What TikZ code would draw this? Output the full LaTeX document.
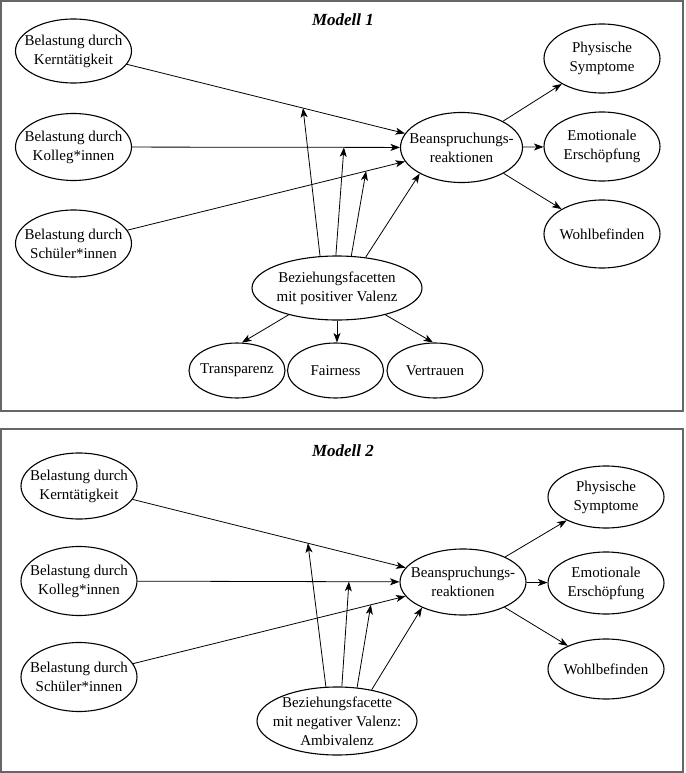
\documentclass[tikz,border=0pt]{standalone}
\usepackage{fontspec}
\setmainfont{Liberation Serif}
\usetikzlibrary{shapes.geometric,arrows.meta,calc}
\tikzset{
  txt/.style={align=center, inner sep=0pt, font=\fontsize{15}{19}\selectfont},
  var/.style args={#1/#2/#3}{ellipse, draw=black, line width=1.1pt, inner sep=0pt,
    minimum width=#1, minimum height=#2, label={[txt]center:#3}},
  ttl/.style={font=\fontsize{17}{20}\selectfont\bfseries\itshape},
  panel/.style={draw=black!60, line width=1.4pt},
  conn/.style={draw=black, line width=0.8pt, -{Stealth[length=9.5pt,width=7pt,inset=2.5pt]}}
}
\begin{document}
\begin{tikzpicture}[x=1pt,y=-1pt]
\useasboundingbox (0,0) rectangle (685,773);
\fill[white] (0,0) rectangle (685,773);
% ---------- Panel 1 ----------
\draw[panel] (1,1) rectangle (683,411);
\node[ttl] (t1title) at (343,20) {Modell 1};
\node[var={116pt/64pt/{Belastung durch\\Kerntätigkeit}}] (k1) at (73.5,51) {};
\node[var={116pt/67pt/{Belastung durch\\Kolleg*innen}}] (c1) at (73.5,147) {};
\node[var={116pt/67pt/{Belastung durch\\Schüler*innen}}] (s1) at (73.5,243.5) {};
\node[var={122pt/70pt/{Beanspruchungs-\\reaktionen}}] (b1) at (461.5,147.5) {};
\node[var={116pt/69pt/{Physische\\Symptome}}] (p1) at (602,58.5) {};
\node[var={116pt/69pt/{Emotionale\\Erschöpfung}}] (e1) at (602,146.5) {};
\node[var={116pt/68pt/{Wohlbefinden}}] (w1) at (602,234) {};
\node[var={170pt/64pt/{Beziehungsfacetten\\mit positiver Valenz}}] (z1) at (337,288) {};
\node[var={96pt/55pt/{Transparenz}}] (tr1) at (237,370.5) {};
\node[var={96pt/55pt/{Fairness}}] (fa1) at (335.5,370.5) {};
\node[var={96pt/55pt/{Vertrauen}}] (ve1) at (435,370.5) {};
\coordinate (m1) at ($(k1)!0.5915!(b1)$);
\coordinate (m2) at ($(c1)!0.697!(b1)$);
\coordinate (m3) at ($(s1)!0.754!(b1)$);
\draw[conn] (k1) -- (b1);
\draw[conn] (c1) -- (b1);
\draw[conn] (s1) -- (b1);
\draw[conn] (b1) -- (p1);
\draw[conn] (b1) -- (e1);
\draw[conn] (b1) -- (w1);
\draw[conn] (z1.118) -- (m1);
\draw[conn] (z1.92) -- (m2);
\draw[conn] (z1.66) -- (m3);
\draw[conn] (z1.47) -- (b1.212);
\draw[conn] (z1.209) -- (tr1.80);
\draw[conn] (z1.south) -- (z1.south |- fa1.north);
\draw[conn] (z1.331) -- (ve1.94);
% ---------- Panel 2 ----------
\draw[panel] (1,429) rectangle (683,772);
\node[ttl] (t2title) at (343,451) {Modell 2};
\node[var={116pt/66pt/{Belastung durch\\Kerntätigkeit}}] (k2) at (79,486) {};
\node[var={116pt/69pt/{Belastung durch\\Kolleg*innen}}] (c2) at (79,581) {};
\node[var={116pt/69pt/{Belastung durch\\Schüler*innen}}] (s2) at (79,677) {};
\node[var={126pt/66pt/{Beanspruchungs-\\reaktionen}}] (b2) at (463,582) {};
\node[var={116pt/62pt/{Physische\\Symptome}}] (p2) at (606,497) {};
\node[var={116pt/62pt/{Emotionale\\Erschöpfung}}] (e2) at (606,583) {};
\node[var={116pt/60pt/{Wohlbefinden}}] (w2) at (606,669) {};
\node[var={160pt/68pt/{Beziehungsfacette\\mit negativer Valenz:\\Ambivalenz}}] (z2) at (337,721) {};
\coordinate (n1) at ($(k2)!0.596!(b2)$);
\coordinate (n2) at ($(c2)!0.703!(b2)$);
\coordinate (n3) at ($(s2)!0.760!(b2)$);
\draw[conn] (k2) -- (b2);
\draw[conn] (c2) -- (b2);
\draw[conn] (s2) -- (b2);
\draw[conn] (b2) -- (p2);
\draw[conn] (b2) -- (e2);
\draw[conn] (b2) -- (w2);
\draw[conn] (z2.108) -- (n1);
\draw[conn] (z2.82) -- (n2);
\draw[conn] (z2.59) -- (n3);
\draw[conn] (z2.42) -- (b2.212);
\end{tikzpicture}
\end{document}
